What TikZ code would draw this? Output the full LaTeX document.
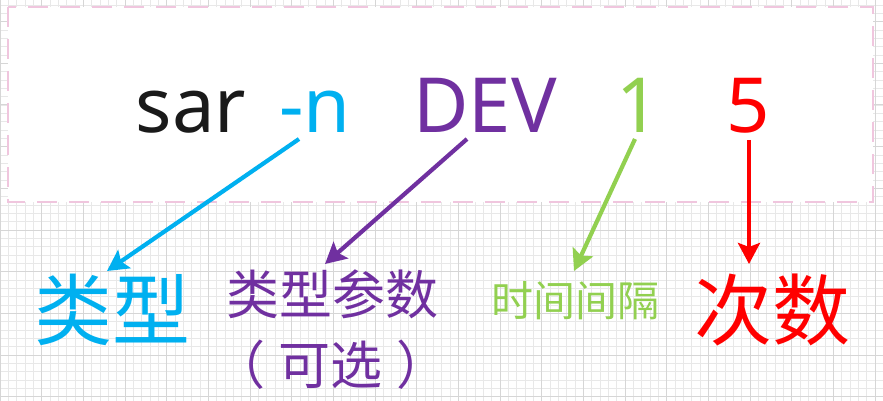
\documentclass[tikz,border=0pt]{standalone}
\usepackage{fontspec}
\setmainfont{Noto Sans}
\newfontfamily\cjk{Noto Sans CJK SC}
\usetikzlibrary{arrows.meta}
\definecolor{gridminor}{HTML}{E8E8E8}
\definecolor{gridmajor}{HTML}{D6D6D6}
\definecolor{boxpink}{HTML}{F0C6DE}
\definecolor{ccyan}{HTML}{00B0F0}
\definecolor{cpurple}{HTML}{7030A0}
\definecolor{cgreen}{HTML}{92D050}
\definecolor{cred}{HTML}{FF0000}
\definecolor{cblack}{HTML}{1A1A1A}
\tikzset{
  cmdword/.style={anchor=base, inner sep=0pt, font=\fontsize{76}{80}\selectfont},
  lbl/.style={anchor=center, inner sep=0pt},
  pointer/.style={line width=4.2pt, -{Stealth[length=21pt,width=22pt,inset=4pt]}},
}
\begin{document}
\begin{tikzpicture}[x=1pt,y=-1pt]
\useasboundingbox (0,0) rectangle (883,401);
\fill[white] (0,0) rectangle (883,401);
% grid
\begin{scope}
\clip (0,0) rectangle (883,401);
\foreach \i in {0,...,106} \draw[gridminor, line width=0.8pt] (\i*8.3333,0) -- (\i*8.3333,401);
\foreach \j in {0,...,48} \draw[gridminor, line width=0.8pt] (0,5+\j*8.3333) -- (883,5+\j*8.3333);
\foreach \i in {0,...,21} \draw[gridmajor, line width=1pt] (\i*41.6667,0) -- (\i*41.6667,401);
\foreach \j in {-1,...,9} \draw[gridmajor, line width=1pt] (0,21.667+\j*41.6667) -- (883,21.667+\j*41.6667);
\end{scope}
% command box
\draw[boxpink, fill=white, line width=2pt, dash pattern=on 20pt off 12pt] (8,7) rectangle (873,202);
% command words
\node[cmdword, text=cblack] (sar) at (191,132) {sar};
\node[cmdword, text=ccyan] (opt) at (315,132) {-n};
\node[cmdword, text=cpurple] (dev) at (485,132) {DEV};
\node[cmdword, text=cgreen] (one) at (638,132) {1};
\node[cmdword, text=cred] (five) at (748,132) {5};
% labels
\node[lbl, text=ccyan, font=\cjk\fontsize{78}{80}\selectfont] (type) at (112,310) {类型};
\node[lbl, text=cpurple, font=\cjk\fontsize{53}{56}\selectfont] (param) at (332,294) {类型参数};
\node[lbl, text=cpurple, font=\cjk\fontsize{52}{56}\selectfont] (optional) at (331,365) {（\hspace{14pt}可选\hspace{14pt}）};
\node[lbl, text=cgreen, font=\cjk\fontsize{42}{46}\selectfont] (interval) at (575,301) {时间间隔};
\node[lbl, text=cred, font=\cjk\fontsize{78}{80}\selectfont] (count) at (772,310) {次数};
% arrow ends
\coordinate (a1s) at (299,139); \coordinate (a1e) at (107,271);
\coordinate (a2s) at (467,139); \coordinate (a2e) at (325,264);
\coordinate (a3s) at (635,139); \coordinate (a3e) at (574,271);
\coordinate (a4s) at (749,140); \coordinate (a4e) at (749,264);
\draw[pointer, ccyan] (a1s) -- (a1e);
\draw[pointer, cpurple] (a2s) -- (a2e);
\draw[pointer, cgreen] (a3s) -- (a3e);
\draw[pointer, cred] (a4s) -- (a4e);
\end{tikzpicture}
\end{document}
